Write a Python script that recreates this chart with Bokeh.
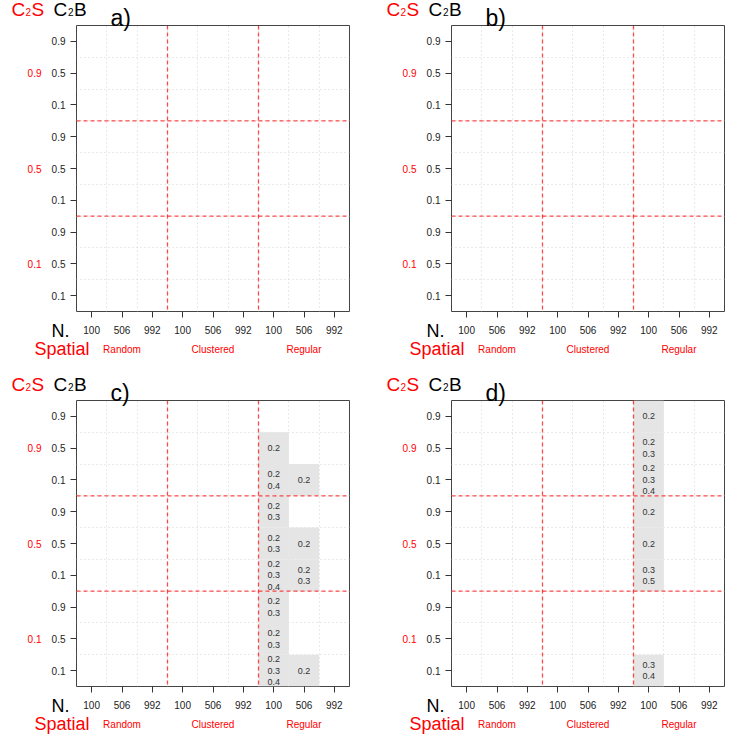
from bokeh.plotting import figure
from bokeh.layouts import gridplot
from bokeh.models import Range1d, LinearAxis, FixedTicker, Span, ColumnDataSource
from bokeh.core.properties import value
from bokeh.embed import file_html
from bokeh.resources import INLINE

spatial = ["Random", "Clustered", "Regular"]
n_values = ["100", "506", "992"]
c2s_values = ["0.9", "0.5", "0.1"]
c2b_values = ["0.9", "0.5", "0.1"]
panel_tags = ["a)", "b)", "c)", "d)"]

# highlighted cells of panel c)
c_spatial = ["Regular"] * 12
c_n = ["100"] * 8 + ["506"] * 4
c_c2s = ["0.9", "0.9", "0.5", "0.5", "0.5", "0.1", "0.1", "0.1", "0.9", "0.5", "0.5", "0.1"]
c_c2b = ["0.5", "0.1", "0.9", "0.5", "0.1", "0.9", "0.5", "0.1", "0.1", "0.5", "0.1", "0.1"]
c_text = ["0.2", "0.2\n0.4", "0.2\n0.3", "0.2\n0.3", "0.2\n0.3\n0.4", "0.2\n0.3", "0.2\n0.3",
          "0.2\n0.3\n0.4", "0.2", "0.2", "0.2\n0.3", "0.2"]

# highlighted cells of panel d)
d_spatial = ["Regular"] * 7
d_n = ["100"] * 7
d_c2s = ["0.9", "0.9", "0.9", "0.5", "0.5", "0.5", "0.1"]
d_c2b = ["0.9", "0.5", "0.1", "0.9", "0.5", "0.1", "0.1"]
d_text = ["0.2", "0.2\n0.3", "0.2\n0.3\n0.4", "0.2", "0.2", "0.3\n0.5", "0.3\n0.4"]

FONT = "Liberation Sans"
NCOLS = len(spatial) * len(n_values)
NROWS = len(c2s_values) * len(c2b_values)
LEFT, RIGHT = 0.5, NCOLS + 0.5
BOTTOM, TOP = 0.5, NROWS + 0.5


def col_of(s, n):
    return spatial.index(s) * len(n_values) + n_values.index(n) + 1


def row_of(a, b):
    return NROWS - (c2s_values.index(a) * len(c2b_values) + c2b_values.index(b))


def outside_text(p, x, y, text, dx, dy, color, size, align="left"):
    # text placed just outside the frame, anchored to a frame corner with pixel offsets
    p.text(x=[x], y=[y], text=[text], x_offset=dx, y_offset=dy, text_color=color,
           text_font_size=f"{size}px", text_font=value(FONT), text_align=align,
           text_baseline="alphabetic", level="overlay")


def make_panel(tag, cells=None):
    p = figure(width=375, height=375, output_backend="svg", toolbar_location=None,
               x_range=Range1d(LEFT, RIGHT), y_range=Range1d(BOTTOM, TOP),
               x_axis_location=None, y_axis_location=None,
               min_border_left=76, min_border_right=26, min_border_top=25, min_border_bottom=64)
    p.outline_line_color = "#444444"
    p.outline_line_width = 1
    p.background_fill_color = "white"
    p.border_fill_color = "white"

    # x axis: N
    xt = list(range(1, NCOLS + 1))
    xa = LinearAxis(ticker=FixedTicker(ticks=xt),
                    major_label_overrides={t: n_values[(t - 1) % len(n_values)] for t in xt})
    # x axis: spatial groups
    gx = [i * len(n_values) + (len(n_values) + 1) // 2 for i in range(len(spatial))]
    xg = LinearAxis(ticker=FixedTicker(ticks=gx),
                    major_label_overrides={v: s for v, s in zip(gx, spatial)})
    # y axis: C2B
    yt = list(range(1, NROWS + 1))
    ya = LinearAxis(ticker=FixedTicker(ticks=yt),
                    major_label_overrides={t: c2b_values[(NROWS - t) % len(c2b_values)] for t in yt})
    # y axis: C2S groups
    gy = [NROWS - (i * len(c2b_values) + (len(c2b_values) - 1) // 2) for i in range(len(c2s_values))]
    yg = LinearAxis(ticker=FixedTicker(ticks=gy),
                    major_label_overrides={v: s for v, s in zip(gy, c2s_values)})

    for ax in (xa, ya):
        ax.axis_line_color = None
        ax.major_tick_in = 0
        ax.major_tick_out = 6
        ax.major_tick_line_color = "#333333"
        ax.minor_tick_line_color = None
        ax.major_label_text_font = FONT
        ax.major_label_text_font_size = "10px"
        ax.major_label_text_color = "#222222"
    xa.major_label_standoff = 8
    ya.major_label_standoff = 5
    for ax in (xg, yg):
        ax.axis_line_color = None
        ax.major_tick_in = 0
        ax.major_tick_out = 0
        ax.major_tick_line_color = None
        ax.minor_tick_line_color = None
        ax.major_label_text_font = FONT
        ax.major_label_text_color = "red"
        ax.major_label_text_font_size = "10px"
    xg.major_label_standoff = 7
    yg.major_label_standoff = 7

    p.add_layout(xa, "below")
    p.add_layout(xg, "below")
    p.add_layout(ya, "left")
    p.add_layout(yg, "left")

    # dotted grid on cell boundaries
    p.xgrid.ticker = FixedTicker(ticks=[i + 0.5 for i in range(1, NCOLS)])
    p.ygrid.ticker = FixedTicker(ticks=[i + 0.5 for i in range(1, NROWS)])
    for g in (p.xgrid, p.ygrid):
        g.grid_line_color = "#d4d4d4"
        g.grid_line_dash = "1 3"
        g.grid_line_width = 1

    if cells is not None:
        s_, n_, a_, b_, t_ = cells
        src = ColumnDataSource(dict(x=[col_of(s, n) for s, n in zip(s_, n_)],
                                    y=[row_of(a, b) for a, b in zip(a_, b_)],
                                    t=t_))
        p.rect("x", "y", width=1, height=1, source=src, fill_color="#e5e5e5", line_color=None)
        p.text("x", "y", text="t", source=src, text_align="center", text_baseline="middle",
               text_font_size="9px", text_color="#333333", text_line_height=1.15,
               text_font=value(FONT))

    # group separators
    for k in range(1, len(spatial)):
        p.add_layout(Span(location=k * len(n_values) + 0.5, dimension="height",
                          line_color="red", line_alpha=0.7, line_dash="4 3", line_width=1.3))
    for k in range(1, len(c2s_values)):
        p.add_layout(Span(location=k * len(c2b_values) + 0.5, dimension="width",
                          line_color="red", line_alpha=0.7, line_dash="4 3", line_width=1.3))

    # header: C2S C2B and panel tag (anchored at the frame's top-left corner)
    outside_text(p, LEFT, TOP, "C", -65, -16, "red", 19)
    outside_text(p, LEFT, TOP, "2", -51, -13.5, "red", 10)
    outside_text(p, LEFT, TOP, "S", -45, -16, "red", 19)
    outside_text(p, LEFT, TOP, "C", -23, -16, "black", 19)
    outside_text(p, LEFT, TOP, "2", -8.5, -13.5, "black", 10)
    outside_text(p, LEFT, TOP, "B", -2.5, -16, "black", 19)
    outside_text(p, LEFT, TOP, tag, 34, -8, "black", 23)
    # footer: axis titles (anchored at the frame's bottom-left corner)
    outside_text(p, LEFT, BOTTOM, "N.", -7, 19, "black", 18, "right")
    outside_text(p, LEFT, BOTTOM, "Spatial", 13, 37, "red", 18, "right")
    return p


pa = make_panel(panel_tags[0])
pb = make_panel(panel_tags[1])
pc = make_panel(panel_tags[2], (c_spatial, c_n, c_c2s, c_c2b, c_text))
pd_ = make_panel(panel_tags[3], (d_spatial, d_n, d_c2s, d_c2b, d_text))

grid = gridplot([[pa, pb], [pc, pd_]], toolbar_location=None)
open("out.html", "w").write(file_html(grid, INLINE))
